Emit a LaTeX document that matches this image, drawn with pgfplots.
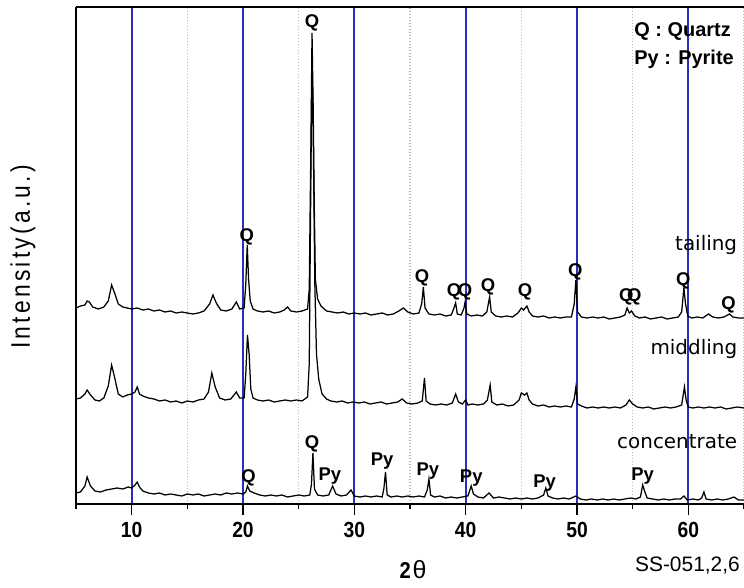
\documentclass[border=0pt]{standalone}
\usepackage{fontspec}
\usepackage{pgfplots}
\pgfplotsset{compat=1.18}
\setmainfont{Liberation Sans}
\newfontfamily\arialfont{Liberation Sans}
\newfontfamily\narrowfont[FakeStretch=0.88]{Liberation Sans}
\newfontfamily\ylabfont[FakeStretch=0.85, LetterSpace=12]{Liberation Sans}
\newfontfamily\dejavu{DejaVu Sans}
\newcommand\tickfont{\narrowfont\bfseries\fontsize{22}{24}\selectfont}
\definecolor{gridblue}{RGB}{45,45,185}
\definecolor{gridgreen}{RGB}{165,200,165}
\tikzset{
  qlab/.style={font=\arialfont\bfseries\fontsize{18.5}{20}\selectfont, inner sep=0pt, anchor=base},
  slab/.style={font=\dejavu\fontsize{20}{22}\selectfont, inner sep=0pt, anchor=base east},
}

\pgfplotstableread{
x y
5.0 196
5.4 198
5.8 199
6.0 203
6.2 202
6.5 197
7.0 195
7.5 197
7.9 203
8.2 219
8.5 210
8.8 200
9.2 197
9.6 196
10.0 195
10.5 196
11.0 194
11.5 195
12.0 193
12.5 194
13.0 192
13.5 193
14.0 191
14.5 192
15.0 191
15.5 190
16.0 191
16.5 193
17.0 200
17.3 209
17.6 201
18.0 194
18.5 193
19.0 195
19.4 202
19.7 195
20.1 196
20.25 220
20.38 259
20.5 225
20.65 203
20.9 195
21.3 193
21.8 192
22.3 193
22.8 191
23.3 192
23.7 194
24.0 197
24.3 193
24.8 192
25.3 193
25.8 195
25.95 215
26.1 360
26.2 471
26.3 400
26.4 300
26.5 225
26.7 205
27.0 198
27.5 193
28.0 192
28.5 191
29.0 192
29.5 190
30.0 191
30.5 190
31.0 191
31.5 189
32.0 190
32.5 191
33.0 189
33.5 190
34.0 193
34.4 196
34.8 192
35.3 190
35.8 191
36.05 200
36.2 217
36.35 196
36.7 190
37.2 189
37.7 190
38.2 188
38.7 189
38.95 196
39.1 201
39.25 190
39.6 189
39.85 196
39.95 202
40.1 190
40.5 188
41.0 189
41.5 188
41.9 192
42.15 207
42.3 192
42.7 188
43.2 187
43.7 188
44.2 187
44.7 191
45.0 196
45.2 194
45.5 198
45.7 192
46.0 188
46.5 187
47.0 188
47.5 186
48.0 187
48.5 186
49.0 187
49.5 187
49.75 200
49.9 224
50.05 192
50.4 187
50.9 186
51.4 187
51.9 186
52.4 187
52.9 185
53.4 186
53.9 187
54.3 189
54.5 196
54.7 191
54.9 193
55.2 188
55.6 186
56.1 187
56.6 185
57.1 186
57.6 187
58.1 185
58.6 186
59.1 187
59.4 192
59.6 216
59.75 200
59.95 188
60.3 186
60.8 187
61.3 186
61.8 190
62.2 187
62.7 186
63.2 187
63.7 190
64.0 187
64.5 186
65.0 186
}\tailing

\pgfplotstableread{
x y
5.0 105
5.4 106
5.8 110
6.0 114
6.3 109
6.7 104
7.1 103
7.5 106
7.9 118
8.2 139
8.5 125
8.8 110
9.2 107
9.6 109
10.0 110
10.3 112
10.5 117
10.7 110
11.0 108
11.5 106
12.0 105
12.5 103
13.0 104
13.5 102
14.0 103
14.5 101
15.0 103
15.5 102
16.0 104
16.5 105
16.9 112
17.2 131
17.5 117
17.9 106
18.4 104
18.9 105
19.4 112
19.7 106
20.1 106
20.25 130
20.4 169
20.55 150
20.7 115
20.9 106
21.3 104
21.8 103
22.3 104
22.8 102
23.3 103
23.8 104
24.3 103
24.8 104
25.3 103
25.8 107
25.95 140
26.1 330
26.2 446
26.3 380
26.45 220
26.6 150
26.8 125
27.1 110
27.5 105
27.9 103
28.4 102
28.9 103
29.4 101
29.9 102
30.4 101
30.9 102
31.4 100
31.9 101
32.4 102
32.9 100
33.4 101
33.9 102
34.3 105
34.7 101
35.2 100
35.7 101
36.1 103
36.3 126
36.45 103
36.8 100
37.3 99
37.8 100
38.3 99
38.8 101
39.1 110
39.35 102
39.7 100
40.0 104
40.2 99
40.6 100
41.1 99
41.6 100
41.95 104
42.2 119
42.35 102
42.8 99
43.3 100
43.8 98
44.3 99
44.8 104
45.0 111
45.3 109
45.5 111
45.7 104
46.0 100
46.5 98
47.0 99
47.5 97
48.0 98
48.5 97
49.0 98
49.5 97
49.75 105
49.9 117
50.05 100
50.4 98
50.9 96
51.4 97
51.9 96
52.4 97
52.9 96
53.4 97
53.9 96
54.4 99
54.7 104
55.0 100
55.4 97
55.9 96
56.4 97
56.9 95
57.4 96
57.9 97
58.4 96
58.9 97
59.4 99
59.65 117
59.8 104
60.0 97
60.4 96
60.9 97
61.4 96
61.9 97
62.4 96
62.9 97
63.4 95
63.9 96
64.4 97
65.0 96
}\middling

\pgfplotstableread{
x y
5.0 11
5.4 12
5.8 18
6.0 27
6.3 18
6.7 13
7.2 12
7.7 14
8.2 15
8.7 16
9.2 15
9.7 17
10.0 16
10.3 19
10.5 22
10.7 17
11.0 13
11.5 11
12.0 10
12.5 11
13.0 9
13.5 10
14.0 9
14.5 8
15.0 10
15.5 9
16.0 10
16.5 8
17.0 9
17.5 10
18.0 9
18.5 11
19.0 10
19.5 11
20.0 10
20.25 12
20.4 18
20.6 13
21.0 11
21.5 9
22.0 8
22.5 9
23.0 8
23.5 9
24.0 7
24.5 8
25.0 9
25.5 8
26.0 9
26.15 20
26.28 51
26.42 15
26.7 9
27.2 8
27.7 9
28.05 18
28.35 10
28.8 8
29.3 9
29.7 14
30.0 8
30.5 7
31.0 8
31.5 7
32.0 8
32.5 7
32.65 15
32.8 32
32.95 9
33.3 7
33.8 8
34.3 7
34.8 8
35.3 7
35.8 8
36.3 7
36.55 14
36.7 25
36.85 9
37.2 7
37.7 8
38.2 6
38.7 7
39.2 6
39.7 7
40.2 8
40.5 18
40.7 10
41.1 7
41.6 6
42.1 11
42.5 6
43.0 7
43.5 6
44.0 5
44.5 6
45.0 5
45.5 6
46.0 5
46.5 6
47.0 9
47.2 16
47.4 8
47.8 6
48.3 5
48.8 6
49.3 5
49.9 8
50.3 5
50.8 4
51.3 5
51.8 4
52.3 5
52.8 4
53.3 5
53.8 4
54.3 5
54.8 6
55.3 5
55.7 7
55.9 19
56.1 12
56.3 6
56.8 5
57.3 4
57.8 5
58.3 4
58.8 5
59.3 5
59.6 8
59.9 4
60.4 5
60.9 4
61.2 6
61.4 12
61.6 5
62.1 4
62.6 5
63.1 4
63.6 5
64.1 7
64.5 4
65.0 4
}\concentrate

\begin{document}
\begin{tikzpicture}
\begin{axis}[
  scale only axis,
  width=668bp, height=497bp,
  xmin=5, xmax=65, ymin=0, ymax=497,
  axis x line*=bottom, axis y line*=left,
  x axis line style={line width=2.5bp},
  y axis line style={line width=1.6bp},
  ytick=\empty,
  xtick={10,20,30,40,50,60},
  xticklabels={{\tickfont 10},{\tickfont 20},{\tickfont 30},{\tickfont 40},{\tickfont 50},{\tickfont 60}},
  minor xtick={5,15,25,35,45,55,65},
  tick align=outside,
  major tick length=11bp, minor tick length=5bp,
  every tick/.style={black, line width=1.4bp},
  xmajorgrids, xminorgrids,
  major grid style={gridblue, line width=1.8bp},
  minor grid style={gridgreen, line width=1.2bp, dash pattern=on 1bp off 2bp},
  xticklabel style={inner sep=0pt, anchor=north, yshift=-7bp},
  xlabel={{\narrowfont\bfseries\fontsize{23}{25}\selectfont 2}\,{\arialfont\fontsize{25}{27}\selectfont θ}},
  xlabel style={at={(axis description cs:0.5045,-0.1328)}, anchor=center},
  ylabel={{\ylabfont\fontsize{27}{29}\selectfont Intensity(a.u.)}},
  ylabel style={at={(axis description cs:-0.0793,0.497)}, anchor=center},
  clip=false,
]
\addplot[black, line width=1.25bp] table {\tailing};
\addplot[black, line width=1.25bp] table {\middling};
\addplot[black, line width=1.25bp] table {\concentrate};

\draw[black, line width=1.6bp] (rel axis cs:0,1) -- (rel axis cs:1,1);

% tailing labels
\node[qlab] at (axis cs:26.19,476) {Q};
\node[qlab] at (axis cs:20.34,262) {Q};
\node[qlab] at (axis cs:36.08,221) {Q};
\node[qlab] at (axis cs:38.96,207) {Q};
\node[qlab] at (axis cs:39.95,207) {Q};
\node[qlab] at (axis cs:42.01,212) {Q};
\node[qlab] at (axis cs:45.34,207) {Q};
\node[qlab] at (axis cs:49.84,227) {Q};
\node[qlab] at (axis cs:54.42,202) {Q};
\node[qlab] at (axis cs:55.14,202) {Q};
\node[qlab] at (axis cs:59.55,218) {Q};
\node[qlab] at (axis cs:63.6,194) {Q};
% concentrate labels
\node[qlab] at (axis cs:20.5,22) {Q};
\node[qlab] at (axis cs:26.19,56) {Q};
\node[qlab] at (axis cs:27.8,24) {Py};
\node[qlab] at (axis cs:32.5,39) {Py};
\node[qlab] at (axis cs:36.6,29) {Py};
\node[qlab] at (axis cs:40.5,22) {Py};
\node[qlab] at (axis cs:47.1,17) {Py};
\node[qlab] at (axis cs:55.9,24) {Py};

% sample names
\node[slab] at (axis cs:64.4,253) {tailing};
\node[slab] at (axis cs:64.4,149) {middling};
\node[slab] at (axis cs:64.4,56) {concentrate};

% key
\node[font=\arialfont\bfseries\fontsize{20}{22}\selectfont, inner sep=0pt, anchor=base west] at (axis cs:55.14,467) {Q : Quartz};
\node[font=\arialfont\bfseries\fontsize{20}{22}\selectfont, inner sep=0pt, anchor=base west] at (axis cs:55.14,439) {Py : Pyrite};

\node[font=\arialfont\fontsize{21}{23}\selectfont, inner sep=0pt, anchor=east] at (rel axis cs:0.994,-0.1248) {SS-051,2,6};
\end{axis}
\pgfresetboundingbox
\path (-76bp,-84bp) rectangle (668bp,504bp);
\end{tikzpicture}
\end{document}
